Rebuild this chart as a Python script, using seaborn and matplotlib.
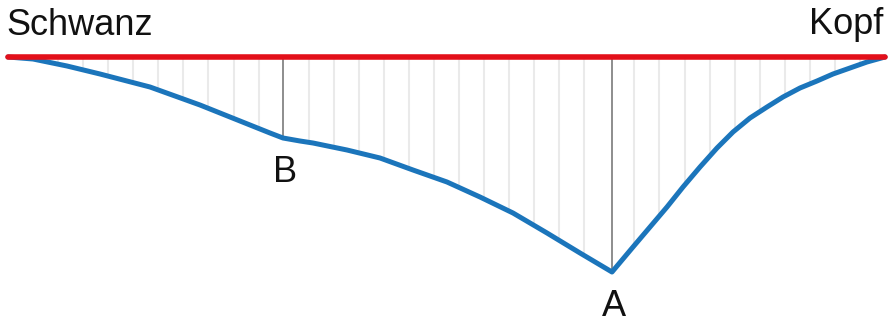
import numpy as np
import pandas as pd
import matplotlib
matplotlib.use("Agg")
import matplotlib.pyplot as plt
import seaborn as sns

sns.set_theme(style="white")
plt.rcParams["font.family"] = ["Liberation Sans", "DejaVu Sans"]

# Position along the body (tail -> head) and deflection below the reference line
position = [8, 33, 67, 100, 150, 200, 250, 270, 283, 300, 313, 347, 380, 413,
            447, 480, 513, 547, 580, 612, 633, 650, 667, 683, 700, 717, 733,
            750, 767, 783, 800, 817, 833, 850, 867, 885]
deflection = [0, 2, 9, 17, 30, 48, 68, 76, 81, 84, 86, 93, 101, 113,
              125, 140, 156, 176, 196, 215, 190, 170, 150, 130, 110, 91, 75,
              61, 50, 40, 31, 24, 17, 11, 5, 0]

# Reference line endpoints
ref_position = [8, 885]
ref_deflection = [0, 0]

# Marked points
point_names = ["B", "A"]
point_position = [283, 612]

end_labels = ["Schwanz", "Kopf"]

curve = pd.DataFrame({"position": position, "deflection": deflection})
ref = pd.DataFrame({"position": ref_position, "deflection": ref_deflection})

fig = plt.figure(figsize=(8.92, 3.24), dpi=100)
ax = fig.add_axes([0, 0, 1, 1])
ax.set_xlim(0, 892)
ax.set_ylim(267, -57)
ax.axis("off")

# Light hatching between the reference line and the curve
step = (ref_position[1] - ref_position[0]) / 35
hx = np.array([ref_position[0] + k * step for k in range(1, 35)])
hx = hx[np.min(np.abs(hx[:, None] - np.array(point_position)[None, :]), axis=1) > 8]
hy = np.interp(hx, position, deflection)
ax.vlines(hx, 0, hy, color="#eaeaea", lw=1.5, zorder=1)

# Darker verticals at the marked points
py = np.interp(point_position, position, deflection)
ax.vlines(point_position, 0, py, color="#858585", lw=1.3, zorder=2)

sns.lineplot(data=curve, x="position", y="deflection", ax=ax, color="#1b75bb",
             lw=3.6, sort=False, zorder=3,
             solid_capstyle="round", solid_joinstyle="round")
sns.lineplot(data=ref, x="position", y="deflection", ax=ax, color="#e3101a",
             lw=4.0, sort=False, zorder=4, solid_capstyle="round")

fs = 26
ax.text(6, -22, end_labels[0], fontsize=fs, ha="left", va="baseline", color="#111111")
ax.text(883, -23, end_labels[1], fontsize=fs, ha="right", va="baseline", color="#111111")
for name, x, y in zip(point_names, point_position, py):
    ax.text(x + 2, y + 44, name, fontsize=fs, ha="center", va="baseline", color="#111111")

fig.savefig("out.png", dpi=100)
